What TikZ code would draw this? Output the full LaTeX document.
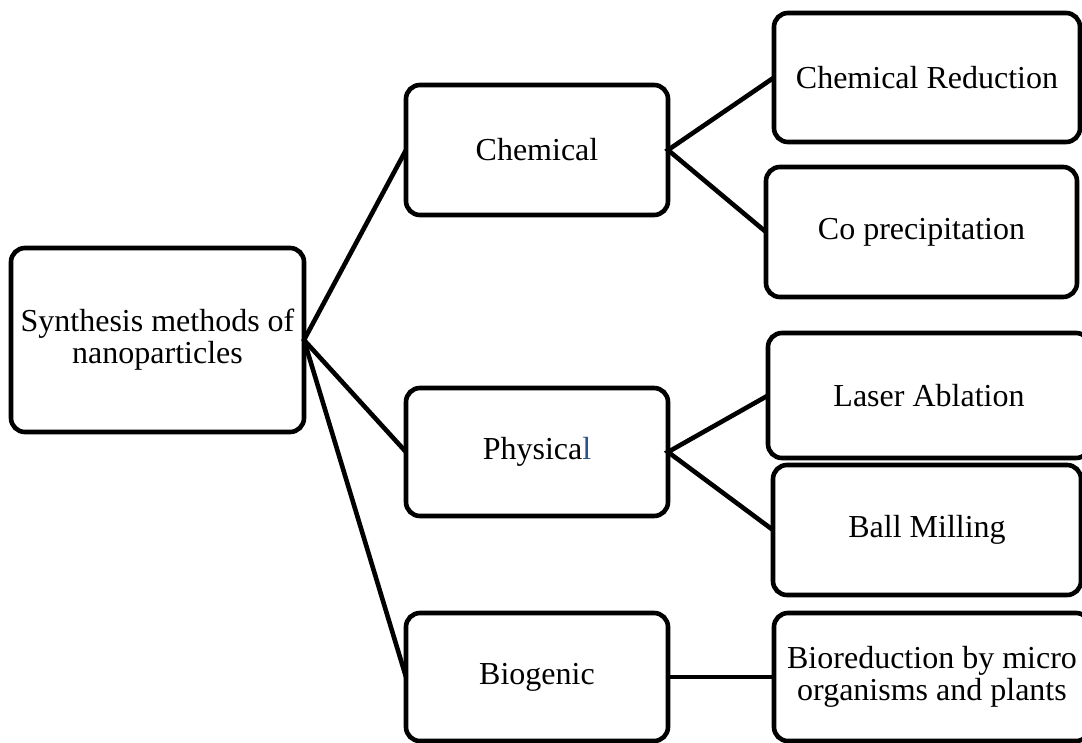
\documentclass[tikz,border=0pt]{standalone}
\usepackage{fontspec}
\setmainfont{Liberation Serif}
\definecolor{wordblue}{RGB}{44,82,140}
\begin{document}
\begin{tikzpicture}[x=1pt,y=-1pt,
  box/.style={draw=black, line width=4.6pt, rounded corners=14pt, fill=white,
    inner sep=0pt, outer sep=0pt, align=center,
    font=\fontsize{32}{32}\selectfont},
  link/.style={draw=black, line width=4.6pt}]
\useasboundingbox (0,0) rectangle (1082,742);
\clip (0,0) rectangle (1082,742);
\fill[white] (0,0) rectangle (1082,742);
\node[box, minimum width=293pt, minimum height=184pt] (root) at (157.5,340) {Synthesis methods of\\nanoparticles};
\node[box, minimum width=262pt, minimum height=130pt] (chem) at (537,150) {Chemical};
\node[box, minimum width=262pt, minimum height=128pt] (phys) at (537,452) {Physica\textcolor{wordblue}{l}};
\node[box, minimum width=262pt, minimum height=128pt] (bio) at (537,677) {Biogenic};
\node[box, minimum width=306pt, minimum height=129pt] (cr) at (927,77.5) {Chemical Reduction};
\node[box, minimum width=311pt, minimum height=130pt] (cp) at (921.5,232) {Co precipitation};
\node[box, minimum width=322pt, minimum height=125pt] (la) at (929,395.5) {Laser Ablation};
\node[box, minimum width=308pt, minimum height=130pt] (bm) at (927,530) {Ball Milling};
\node[box, minimum width=316pt, minimum height=128pt] (br) at (932,677) {Bioreduction by micro\\organisms and plants};
\draw[link] (chem.west) -- (root.east) -- (phys.west);
\draw[link] (root.east) -- (bio.west);
\draw[link] (cr.west) -- (chem.east) -- (cp.west);
\draw[link] (la.west) -- (phys.east) -- (bm.west);
\draw[link] (bio.east) -- (br.west);
\end{tikzpicture}
\end{document}
